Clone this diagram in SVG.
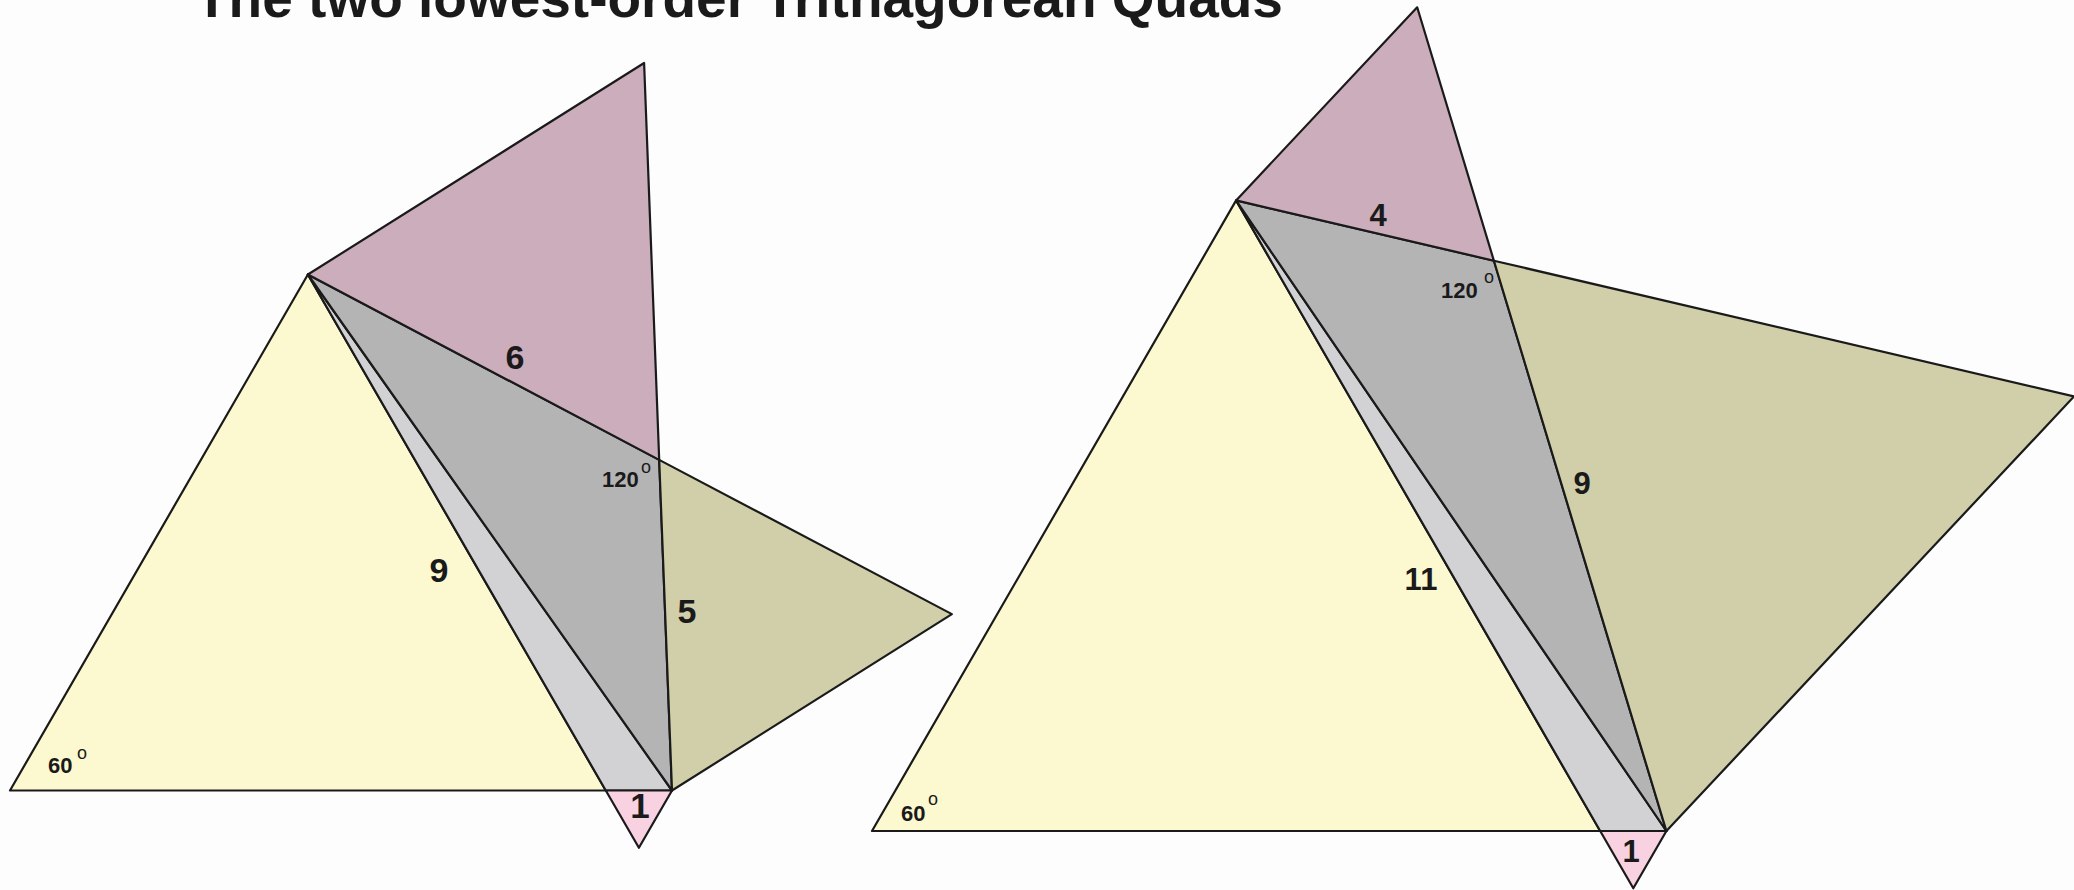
<svg xmlns="http://www.w3.org/2000/svg" width="2074" height="890" viewBox="0 0 2074 890">
<style>
.e{stroke:#1a1a1a;stroke-width:2.2;stroke-linejoin:round}
.y{fill:#FCF8D0}.lg{fill:#D2D2D4}.pk{fill:#F8D2E1}.dg{fill:#B4B4B4}.pu{fill:#CBADBB}.ol{fill:#D1CFAA}
text{font-family:"Liberation Sans",Arial,sans-serif;fill:#1a1a1a}
.big{font-size:34px;font-weight:bold;text-anchor:middle}
.mid{font-size:31px;font-weight:bold;text-anchor:middle}
.ang{font-size:22px;font-weight:bold}
.deg{font-size:18px;text-anchor:middle}
.title{font-size:55px;font-weight:bold}
</style>
<rect x="0" y="0" width="2074" height="890" fill="#FEFDFD"/>
<text class="title" x="195" y="17">The two lowest-order Trithagorean Quads</text>
<g id="quad-left">
  <polygon id="L-yellow" class="y e" points="10,790.5 605.8,790.5 307.9,274.5"/>
  <polygon id="L-sliver" class="lg e" points="307.9,274.5 605.8,790.5 672,790.5"/>
  <polygon id="L-pink" class="pk e" points="605.8,790.5 672,790.5 638.9,847.8"/>
  <polygon id="L-gray" class="dg e" points="307.9,274.5 659.2,459.9 672,790.5"/>
  <polygon id="L-purple" class="pu e" points="307.9,274.5 644.1,63 659.2,459.9"/>
  <polygon id="L-olive" class="ol e" points="659.2,459.9 951.9,614.1 672,790.5"/>
  <text class="big" x="515" y="369">6</text>
  <text class="big" x="439" y="582">9</text>
  <text class="big" x="687" y="623">5</text>
  <text class="big" x="640" y="818" style="font-size:35px">1</text>
  <text class="ang" x="602" y="487">120</text>
  <text class="deg" x="646" y="473">o</text>
  <text class="ang" x="48" y="773">60</text>
  <text class="deg" x="82" y="759">o</text>
</g>
<g id="quad-right">
  <polygon id="R-yellow" class="y e" points="872,831 1600.2,831 1236.1,200.4"/>
  <polygon id="R-sliver" class="lg e" points="1236.1,200.4 1600.2,831 1666.4,831"/>
  <polygon id="R-pink" class="pk e" points="1600.2,831 1666.4,831 1633.3,888.3"/>
  <polygon id="R-gray" class="dg e" points="1236.1,200.4 1493.9,260.7 1666.4,831"/>
  <polygon id="R-purple" class="pu e" points="1236.1,200.4 1417.2,7.3 1493.9,260.7"/>
  <polygon id="R-olive" class="ol e" points="1493.9,260.7 2074,396.5 1666.4,831"/>
  <text class="mid" x="1378" y="226">4</text>
  <text class="mid" x="1582" y="494">9</text>
  <text class="mid" x="1421" y="590">11</text>
  <text class="mid" x="1631" y="862">1</text>
  <text class="ang" x="1441" y="298">120</text>
  <text class="deg" x="1489" y="283">o</text>
  <text class="ang" x="901" y="821">60</text>
  <text class="deg" x="933" y="805">o</text>
</g>
</svg>
